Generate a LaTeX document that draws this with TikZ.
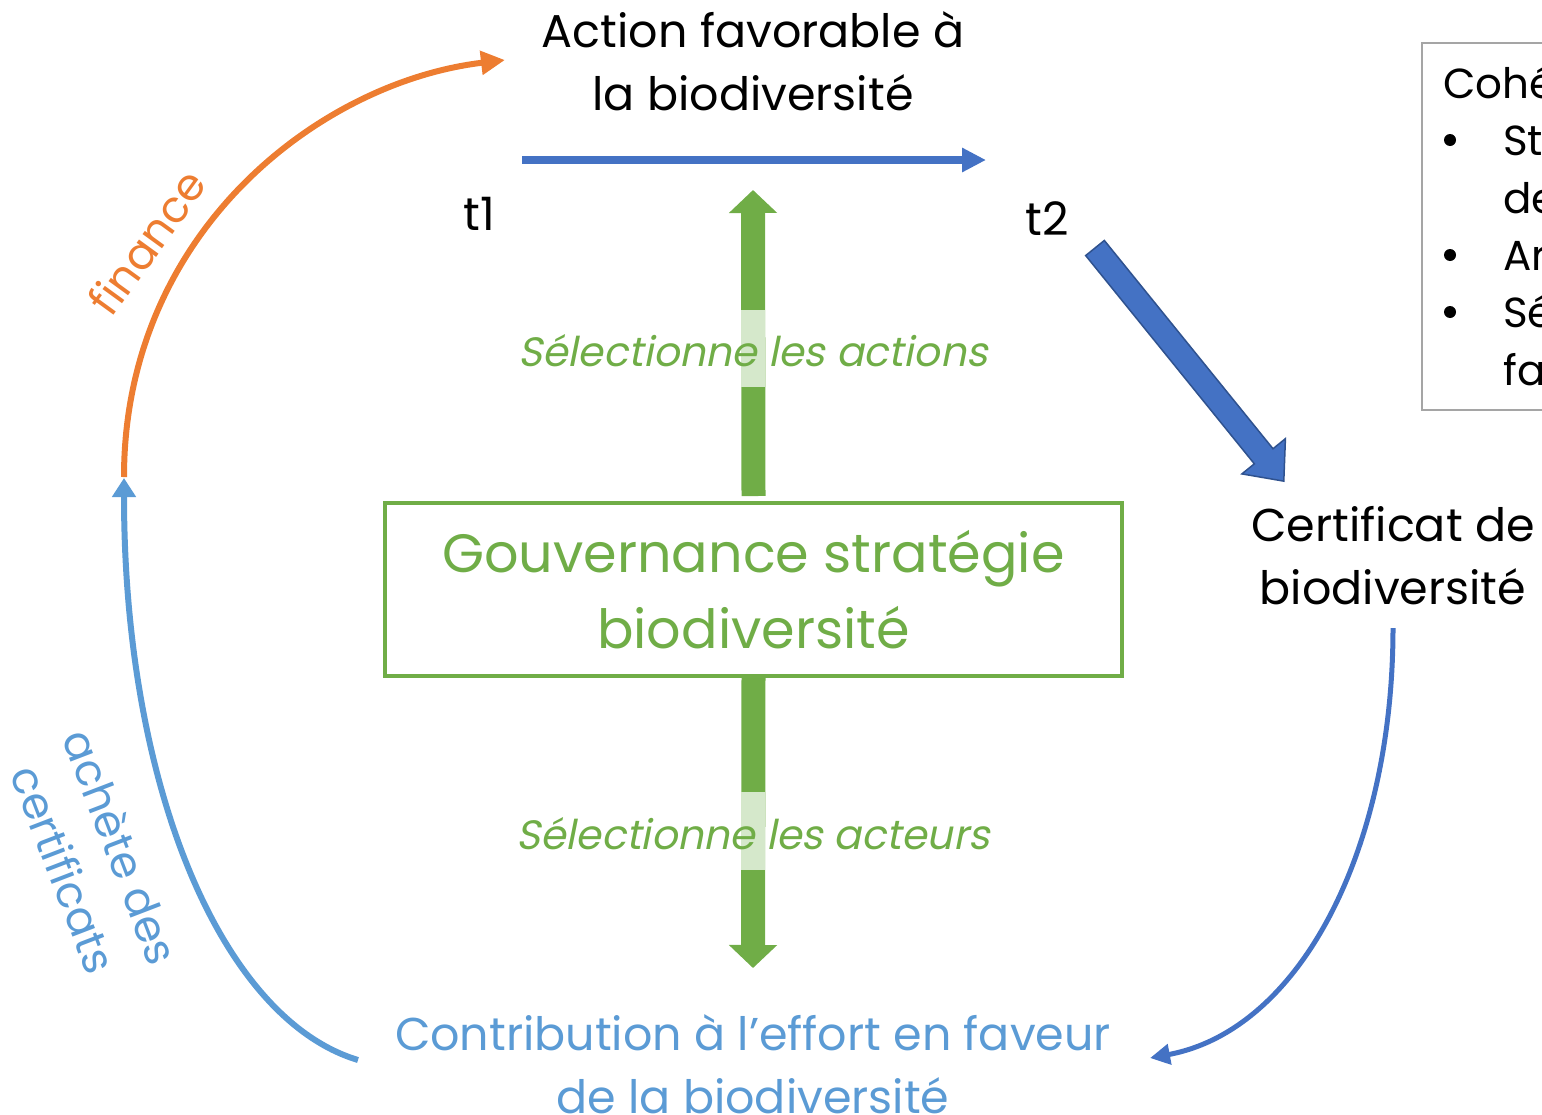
\documentclass[tikz,border=0pt]{standalone}
\usepackage{fontspec}
\setmainfont{Poppins}
\newfontfamily\slantfont{Poppins}[FakeSlant=0.2]
\usetikzlibrary{arrows.meta,positioning,calc}
\definecolor{vert}{HTML}{70AD47}
\definecolor{vertclair}{HTML}{D5E8CB}
\definecolor{bleu}{HTML}{4472C4}
\definecolor{bleufonce}{HTML}{2F528F}
\definecolor{bleuclair}{HTML}{5B9BD5}
\definecolor{orange}{HTML}{ED7D31}
\definecolor{gris}{HTML}{A5A5A5}

\begin{document}
\begin{tikzpicture}[x=1pt,y=1pt,
  txt/.style={font=\fontsize{46}{63}\selectfont,align=center,inner sep=0pt},
  courbe/.style={font=\fontsize{44}{61}\selectfont,align=center,inner sep=0pt},
  selection/.style={font=\fontsize{41}{63}\selectfont\slantfont,text=vert,inner sep=0pt},
  petit/.style={font=\fontsize{42}{57}\selectfont,inner sep=0pt,anchor=base west},
  fleche vert/.style={vert,line width=24pt,-{Triangle[length=23pt,width=47pt]}}]
\useasboundingbox (0,0) rectangle (1542,-1114);

% action et temps
\node[txt] (action) at (753,-61) {Action favorable à\\la biodiversité};
\coordinate (debut) at (522,-160);
\coordinate (fin) at (986,-160);
\draw[bleu,line width=8pt,-{Triangle[length=24pt,width=23pt]}] (debut) -- (fin);
\node[txt,anchor=base] (t1) at (479,-230) {t1};
\node[txt,anchor=base] (t2) at (1047,-235) {t2};

% gouvernance
\node[draw=vert,line width=4pt,minimum width=737,minimum height=173,
  text=vert,font=\fontsize{54}{76}\selectfont,align=center] (gov) at (753.5,-589.5)
  {Gouvernance stratégie\\biodiversité};
\coordinate (haut) at (753,-190);
\coordinate (bas) at (753,-968);
\draw[fleche vert] ([yshift=5pt]gov.north) -- (haut);
\draw[fleche vert] ([yshift=3pt]gov.south) -- (bas);
\fill[vertclair] (741,-310) rectangle (765,-387);
\fill[vertclair] (741,-792) rectangle (765,-870);
\node[selection] (sel1) at (753,-351) {Sélectionne les actions};
\node[selection] (sel2) at (753,-834) {Sélectionne les acteurs};

% certificat
\node[txt] (certif) at (1393,-556) {Certificat de\\biodiversité};
\coordinate (c1) at (1095,-248);
\begin{scope}[shift={(c1)},rotate=-51]
\filldraw[fill=bleu,draw=bleufonce,line width=1.5pt]
  (0,12) -- (268,12) -- (268,28) -- (300,0) -- (268,-28) -- (268,-12) -- (0,-12) -- cycle;
\end{scope}

% contribution
\node[txt,text=bleuclair] (contrib) at (753,-1064)
  {Contribution à l’effort en faveur\\de la biodiversité};
\coordinate (cdep) at (1393,-628);
\coordinate (carr) at (1150,-1058);
\draw[bleu,line width=5pt,-{Triangle[length=20pt,width=20pt]}]
  (cdep) .. controls (1393,-850) and (1300,-1030) .. (carr);

\coordinate (gdep) at (358,-1060);
\coordinate (pivot) at (124,-478);
\coordinate (garr) at (505,-60);
\draw[bleuclair,line width=6pt,-{Triangle[length=19pt,width=23pt]}]
  (gdep) .. controls (222,-1019) and (124,-788) .. (pivot);
\draw[orange,line width=6pt,-{Triangle[length=24pt,width=23pt]}]
  ([yshift=1pt]pivot) .. controls (124,-232) and (320,-82) .. (garr);
\node[courbe,text=orange,rotate=54] (finance) at (147,-242) {finance};
\node[courbe,text=bleuclair,rotate=-69] (achete) at (93,-858) {achète des\\certificats};

% cadre de droite
\draw[gris,line width=2.5pt] (1422,-43) rectangle (1600,-410);
\node[petit] (coh) at (1443,-98) {Cohé};
\fill (1450,-140) circle (6);
\fill (1450,-255) circle (6);
\fill (1450,-312) circle (6);
\node[petit] (l1) at (1503,-155) {St};
\node[petit] (l2) at (1503,-213) {de};
\node[petit] (l3) at (1503,-270) {Ar};
\node[petit] (l4) at (1503,-327) {Sé};
\node[petit] (l5) at (1503,-385) {fa};
\end{tikzpicture}
\end{document}
